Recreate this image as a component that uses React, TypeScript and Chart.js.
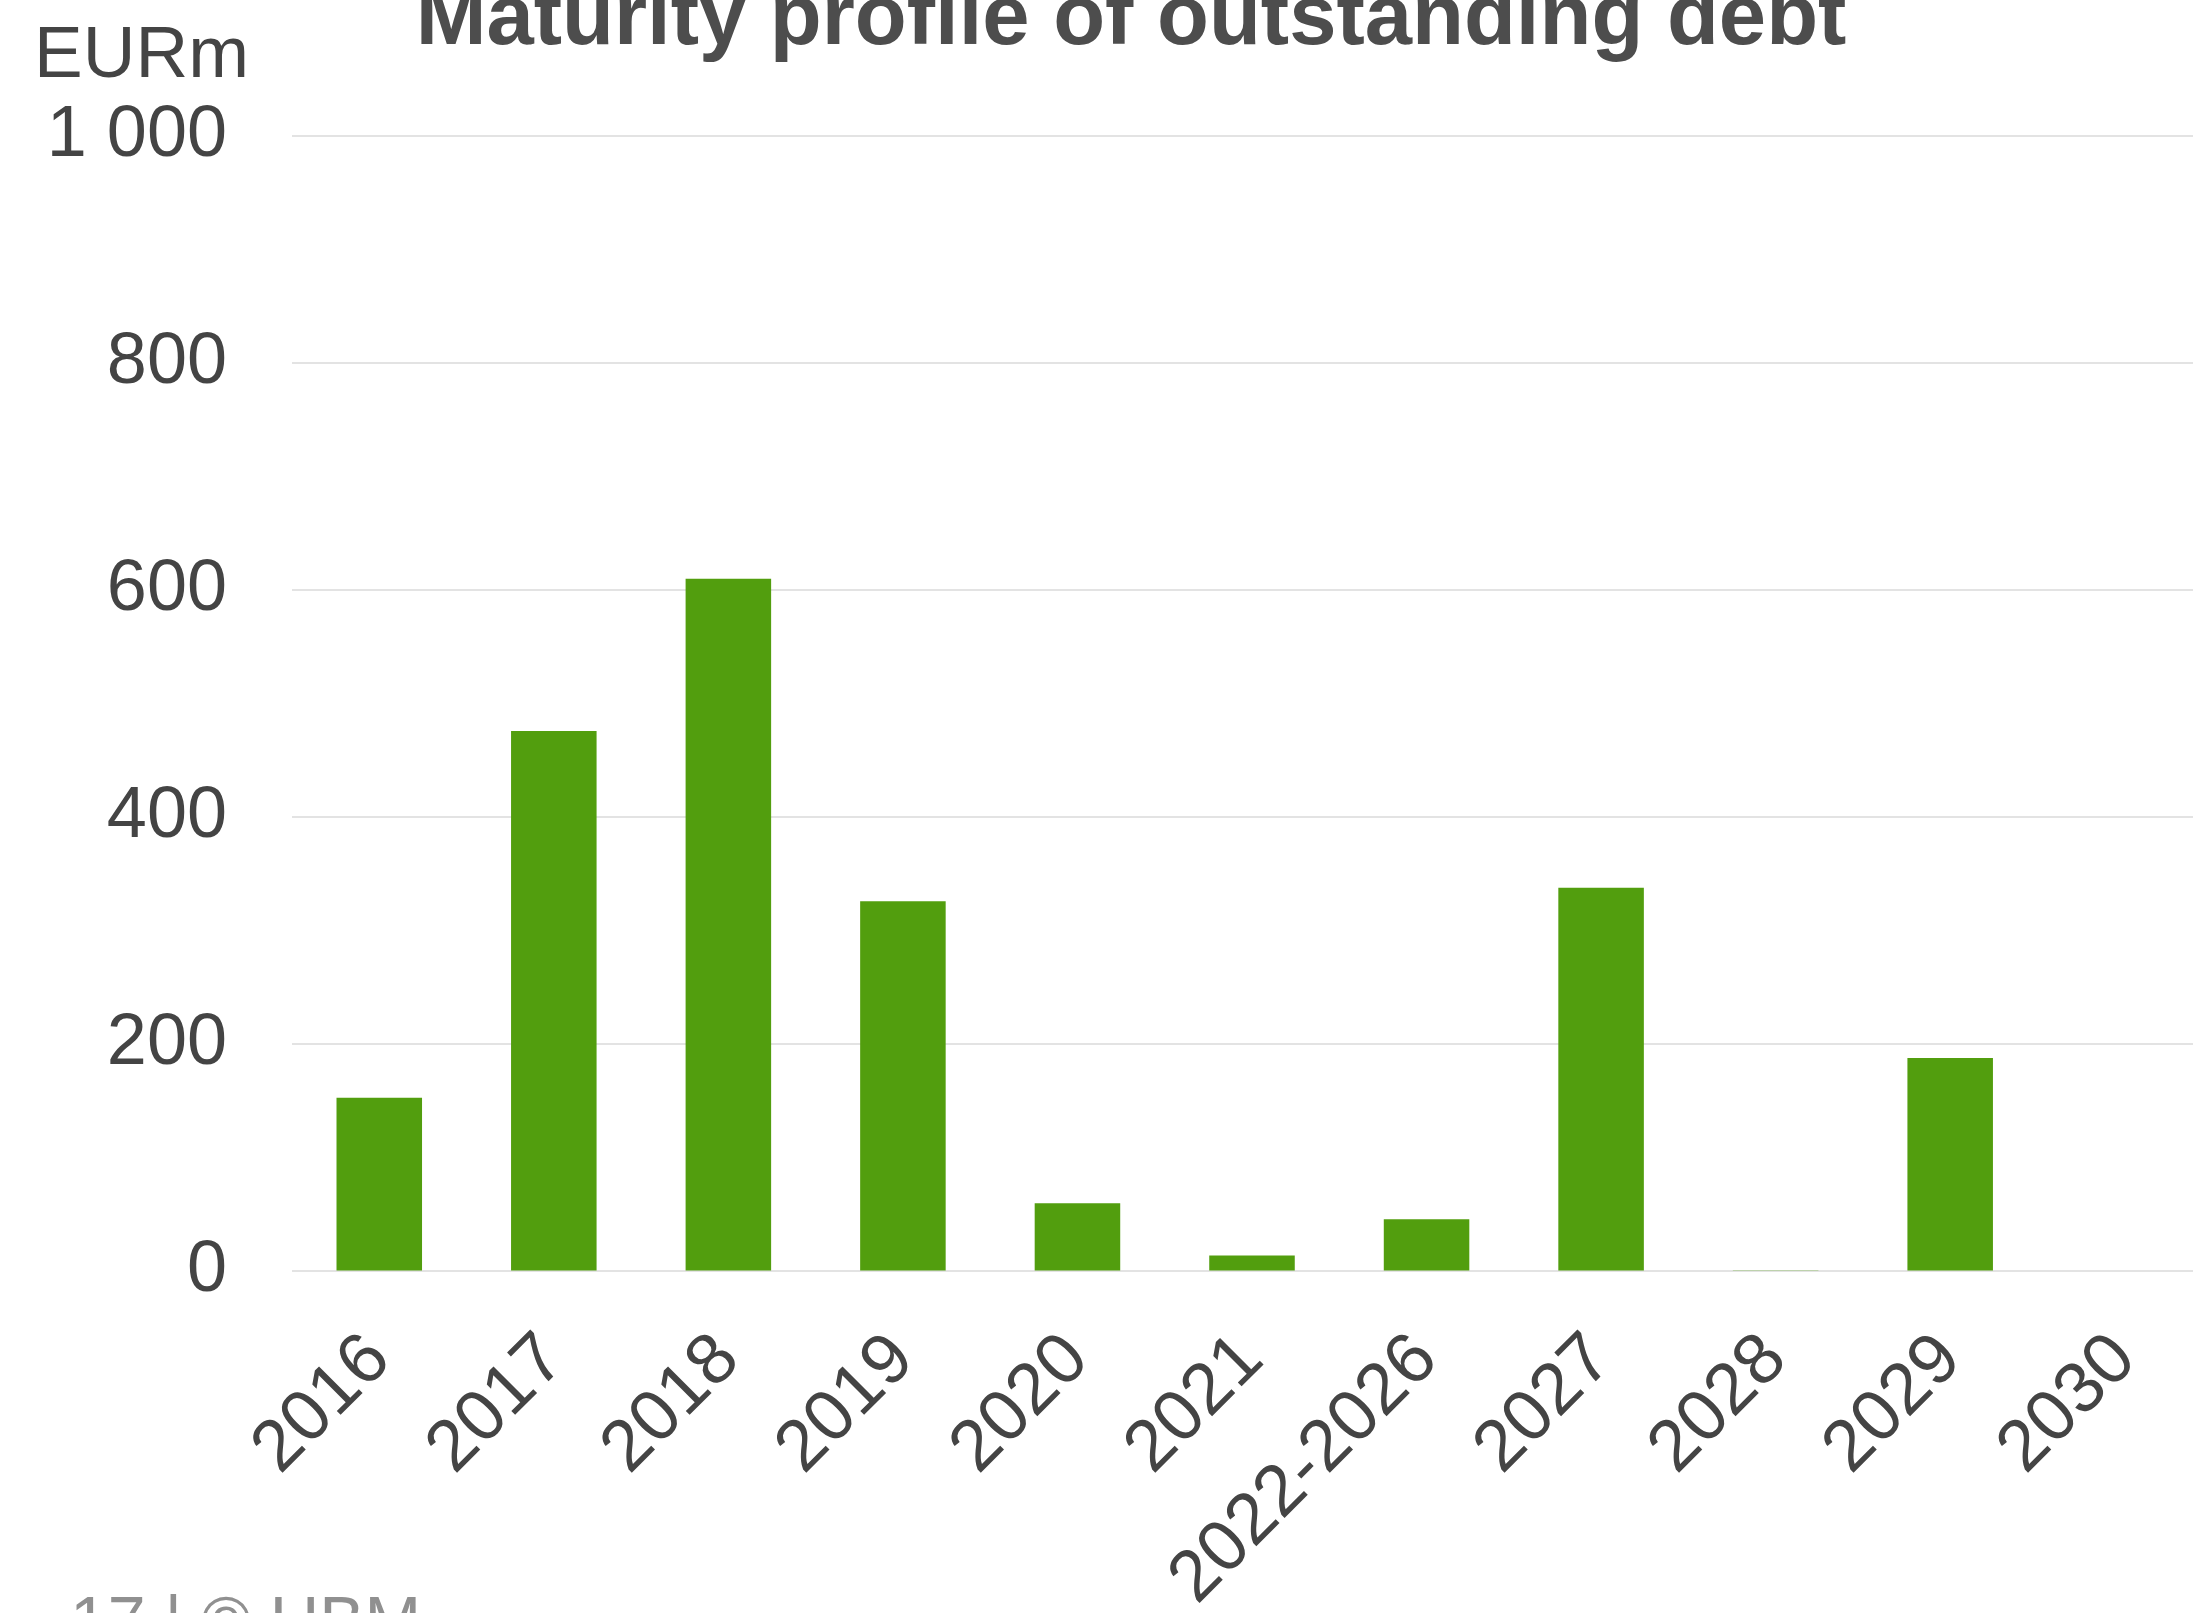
import React, { useEffect, useRef } from 'react';
import { Chart, registerables } from 'chart.js';

Chart.register(...registerables);

const categories = ['2016', '2017', '2018', '2019', '2020', '2021', '2022-2026', '2027', '2028', '2029', '2030'];
const debtValues = [153, 476, 610, 326, 60, 14, 46, 338, 1, 188, 0];
const yMin = 0;
const yMax = 1000;
const yStep = 200;
const titleText = 'Maturity profile of outstanding debt';
const unitLabel = 'EURm';
const footerText = '17 | \u00A9 UBM';

const FONT = '"Liberation Sans", Arial, Helvetica, sans-serif';

const formatThousands = (v: number) => String(v).replace(/\B(?=(\d{3})+(?!\d))/g, ' ');

const extraText = {
  id: 'extraText',
  afterDraw(chart: any) {
    const ctx = chart.ctx;
    const area = chart.chartArea;
    ctx.save();
    ctx.fillStyle = '#444444';
    ctx.font = `73px ${FONT}`;
    ctx.textAlign = 'left';
    ctx.textBaseline = 'alphabetic';
    ctx.fillText(unitLabel, area.left - 258, area.top - 59);
    ctx.fillStyle = '#909090';
    ctx.font = `68px ${FONT}`;
    ctx.fillText(footerText, 70, 1684);
    ctx.restore();
  },
};

export default function App() {
  const ref = useRef<HTMLCanvasElement | null>(null);
  useEffect(() => {
    if (!ref.current) return;
    const chart = new Chart(ref.current, {
      type: 'bar',
      data: {
        labels: categories,
        datasets: [
          {
            label: 'Outstanding debt',
            data: debtValues,
            backgroundColor: '#529E0E',
            borderWidth: 0,
            categoryPercentage: 1,
            barPercentage: 0.49,
          },
        ],
      },
      options: {
        responsive: false,
        animation: false,
        layout: { padding: { left: 50, right: 50, top: 0, bottom: 0 } },
        plugins: {
          legend: { display: false },
          tooltip: { enabled: false },
          title: {
            display: true,
            text: titleText,
            color: '#4D4D4D',
            font: { family: FONT, size: 85, weight: 'bold', lineHeight: 1.2 },
            padding: { top: 10, bottom: 64 },
          },
        },
        scales: {
          x: {
            grid: { display: false },
            border: { display: false },
            ticks: {
              color: '#444444',
              font: { family: FONT, size: 72 },
              minRotation: 45,
              maxRotation: 45,
              padding: 38,
              autoSkip: false,
            },
          },
          y: {
            min: yMin,
            max: yMax,
            grid: { color: '#E3E3E3', lineWidth: 2, drawTicks: false },
            border: { display: false },
            afterFit: (scale: any) => {
              scale.width = 242;
            },
            ticks: {
              stepSize: yStep,
              color: '#444444',
              font: { family: FONT, size: 72 },
              padding: 65,
              callback: (v: any) => formatThousands(Number(v)),
            },
          },
        },
      },
      plugins: [extraText],
    });
    return () => chart.destroy();
  }, []);

  return (
    <div style={{ position: 'fixed', left: 0, top: 0, width: 2193, height: 1613, overflow: 'hidden', background: '#fff' }}>
      <canvas ref={ref} width={2262} height={1700} style={{ position: 'absolute', left: 0, top: -40, width: 2262, height: 1700 }} />
    </div>
  );
}
